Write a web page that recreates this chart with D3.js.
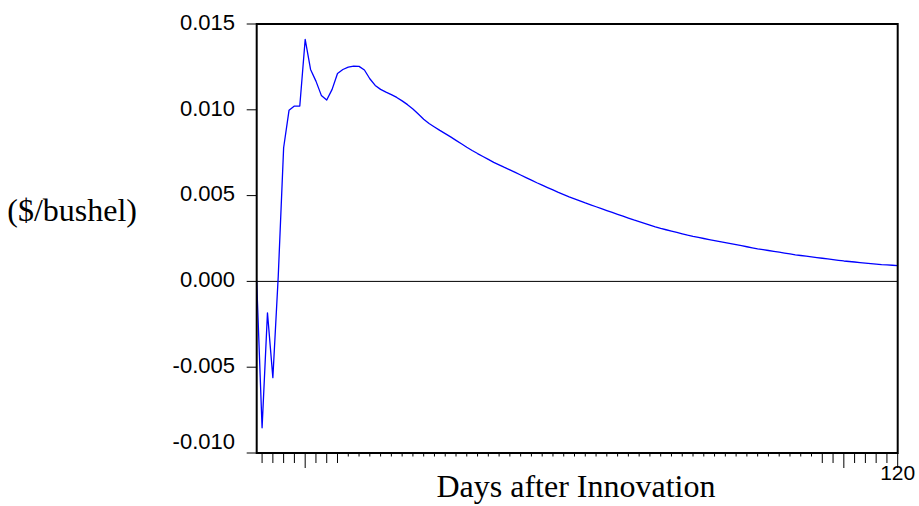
<!DOCTYPE html>
<html>
<head>
<meta charset="utf-8">
<script src="https://cdn.jsdelivr.net/npm/d3@7"></script>
<style>
  html, body { margin: 0; padding: 0; background: #fff; }
  svg { display: block; }
</style>
</head>
<body>
<svg id="chart" width="919" height="506"></svg>
<script>
// ---- data ----
const periods = d3.range(1, 121); // days after innovation 1..120
const response = [
  0.00000, -0.00853, -0.00183, -0.00561, 0.00030, 0.00779, 0.00997, 0.01022, 0.01022, 0.01410,
  0.01235, 0.01167, 0.01084, 0.01057, 0.01119, 0.01212, 0.01235, 0.01249, 0.01255, 0.01253,
  0.01232, 0.01181, 0.01142, 0.01119, 0.01103, 0.01088, 0.01072, 0.01052, 0.01030, 0.01005,
  0.00975, 0.00945, 0.00920, 0.00900, 0.00880, 0.00861, 0.00842, 0.00822, 0.00802, 0.00782,
  0.00763, 0.00745, 0.00728, 0.00711, 0.00694, 0.00679, 0.00664, 0.00650, 0.00635, 0.00620,
  0.00605, 0.00590, 0.00575, 0.00561, 0.00547, 0.00533, 0.00519, 0.00506, 0.00493, 0.00481,
  0.00469, 0.00457, 0.00446, 0.00435, 0.00424, 0.00413, 0.00402, 0.00391, 0.00380, 0.00369,
  0.00358, 0.00348, 0.00338, 0.00328, 0.00318, 0.00309, 0.00301, 0.00293, 0.00285, 0.00277,
  0.00269, 0.00262, 0.00256, 0.00250, 0.00244, 0.00238, 0.00232, 0.00226, 0.00220, 0.00214,
  0.00208, 0.00202, 0.00196, 0.00190, 0.00185, 0.00180, 0.00175, 0.00170, 0.00165, 0.00160,
  0.00155, 0.00151, 0.00147, 0.00143, 0.00139, 0.00135, 0.00131, 0.00127, 0.00123, 0.00119,
  0.00116, 0.00113, 0.00110, 0.00107, 0.00104, 0.00101, 0.00098, 0.00096, 0.00094, 0.00092
];
const yTicks = [-0.010, -0.005, 0.000, 0.005, 0.010, 0.015];
const yTickLabels = ["-0.010", "-0.005", "0.000", "0.005", "0.010", "0.015"];
const xMinorTicks = d3.range(2, 121, 2);
const xMajorTicks = d3.range(10, 121, 10);
const xTickLabels = [{ p: 120, text: "120" }];
const yTitle = "($/bushel)";
const xTitle = "Days after Innovation";

// ---- layout ----
const L = 256.7, R = 897.7, T = 24, B = 453;
const svg = d3.select("#chart");

const x = d3.scaleLinear().domain([1, 120]).range([L, R]);
const y = d3.scaleLinear().domain([-0.010, 0.015]).range([B, T]);

// x ticks (below the frame)
const xt = svg.append("g").attr("stroke", "#000").attr("stroke-width", 1);
xt.selectAll("line.minor").data(xMinorTicks.filter(p => p % 10 !== 0)).join("line")
  .attr("class", "minor")
  .attr("x1", d => x(d)).attr("x2", d => x(d))
  .attr("y1", B).attr("y2", B + 10);
xt.selectAll("line.major").data(xMajorTicks).join("line")
  .attr("class", "major")
  .attr("x1", d => x(d)).attr("x2", d => x(d))
  .attr("y1", B).attr("y2", B + 15);

// white box that hides the middle ticks (as in reference)
svg.append("rect")
  .attr("x", 340).attr("y", B + 3.5)
  .attr("width", 478).attr("height", 506 - B)
  .attr("fill", "#fff");

// y ticks
const yt = svg.append("g");
yt.selectAll("line").data(yTicks).join("line")
  .attr("x1", L - 10).attr("x2", L)
  .attr("y1", d => y(d)).attr("y2", d => y(d))
  .attr("stroke", "#000").attr("stroke-width", 1);
yt.selectAll("text").data(yTicks).join("text")
  .attr("x", 235)
  .attr("y", d => Math.min(y(d) - 2, 441))
  .attr("dy", "0.35em")
  .attr("text-anchor", "end")
  .attr("font-family", "Liberation Sans, Arial, sans-serif")
  .attr("font-size", 22)
  .attr("fill", "#000")
  .text((d, i) => yTickLabels[i]);

// zero line
svg.append("line")
  .attr("x1", L).attr("x2", R)
  .attr("y1", y(0)).attr("y2", y(0))
  .attr("stroke", "#000").attr("stroke-width", 1);

// series line
const line = d3.line().x((d, i) => x(periods[i])).y(d => y(d));
svg.append("path")
  .datum(response)
  .attr("d", line)
  .attr("fill", "none")
  .attr("stroke", "#0000ff")
  .attr("stroke-width", 1.3)
  .attr("stroke-linejoin", "round");

// frame
svg.append("rect")
  .attr("x", L).attr("y", T)
  .attr("width", R - L).attr("height", B - T)
  .attr("fill", "none")
  .attr("stroke", "#000").attr("stroke-width", 2);

// x tick label
svg.selectAll("text.xl").data(xTickLabels).join("text")
  .attr("class", "xl")
  .attr("x", d => x(d.p))
  .attr("y", 479.5)
  .attr("text-anchor", "middle")
  .attr("font-family", "Liberation Sans, Arial, sans-serif")
  .attr("font-size", 21)
  .attr("fill", "#000")
  .text(d => d.text);

// axis titles
svg.append("text")
  .attr("x", 576).attr("y", 496.7)
  .attr("text-anchor", "middle")
  .attr("font-family", "Liberation Serif, Times New Roman, serif")
  .attr("font-size", 32)
  .attr("fill", "#000")
  .text(xTitle);

svg.append("text")
  .attr("x", 137).attr("y", 220.7)
  .attr("text-anchor", "end")
  .attr("font-family", "Liberation Serif, Times New Roman, serif")
  .attr("font-size", 32)
  .attr("fill", "#000")
  .text(yTitle);
</script>
</body>
</html>
